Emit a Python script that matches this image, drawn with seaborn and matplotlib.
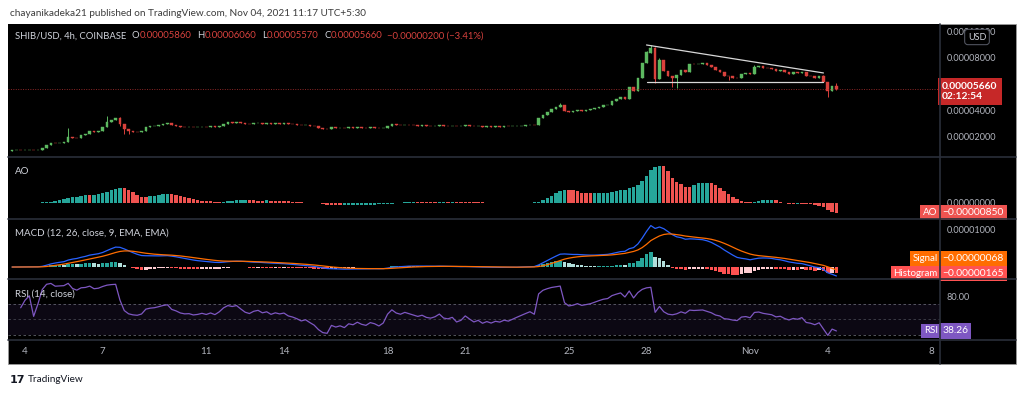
import numpy as np
import pandas as pd
import matplotlib
matplotlib.use("Agg")
import matplotlib.pyplot as plt
import matplotlib.dates as mdates
import matplotlib.transforms as mtrans
from matplotlib.patches import Rectangle
from matplotlib.lines import Line2D
import seaborn as sns

# ---------------- data (prices in units of 1e-5 USD) ----------------
first_candle = "2021-10-03 12:00"
candle_freq = "4h"
close_e5 = [
    0.98, 1.00, 0.99,
    1.00, 1.01, 0.99, 1.02, 1.15, 1.42,
    1.55, 1.53, 1.55, 1.58, 1.98, 1.92,
    1.90, 2.15, 2.20, 2.42, 2.38, 2.45,
    2.75, 3.10, 3.30, 3.42, 3.00, 2.60,
    2.45, 2.40, 2.38, 2.45, 2.75, 2.82,
    2.85, 2.92, 3.00, 3.05, 2.90, 2.85,
    2.78, 2.75, 2.76, 2.72, 2.74, 2.78,
    2.75, 2.80, 2.76, 2.85, 3.00, 3.10,
    3.08, 3.12, 3.05, 2.98, 2.95, 3.02,
    3.05, 3.00, 3.03, 2.98, 3.02, 3.00,
    3.02, 2.97, 2.95, 2.92, 2.88, 2.90,
    2.85, 2.80, 2.70, 2.62, 2.60, 2.72,
    2.68, 2.70, 2.66, 2.72, 2.70, 2.74,
    2.70, 2.68, 2.72, 2.70, 2.66, 2.70,
    2.85, 2.95, 2.90, 2.88, 2.92, 2.90,
    2.88, 2.86, 2.88, 2.85, 2.84, 2.86,
    2.90, 2.85, 2.84, 2.86, 2.80, 2.82,
    2.88, 2.84, 2.80, 2.82, 2.78, 2.80,
    2.78, 2.80, 2.79, 2.81, 2.80, 2.82,
    2.84, 2.86, 2.88, 2.90, 2.88, 3.40,
    3.70, 3.90, 4.10, 4.25, 4.40, 4.00,
    3.90, 3.95, 4.05, 4.00, 4.05, 4.10,
    4.20, 4.30, 4.40, 4.45, 4.70, 4.85,
    5.00, 4.90, 5.75, 5.50, 6.50, 7.60,
    8.40, 8.75, 6.40, 7.80, 7.00, 6.60,
    6.50, 6.70, 7.10, 6.90, 7.55, 7.50,
    7.55, 7.60, 7.45, 7.30, 7.05, 6.95,
    6.65, 6.60, 6.50, 6.45, 6.80, 6.85,
    6.75, 7.30, 7.35, 7.25, 7.20, 7.15,
    7.00, 7.05, 6.90, 6.80, 6.90, 6.85,
    6.95, 6.65, 6.60, 6.50, 6.60, 6.15,
    5.50, 5.86, 5.66,
]
first_open_e5 = 0.97
wick_high_e5 = {13: 2.70, 22: 3.60, 25: 3.50, 127: 4.60, 147: 8.50, 148: 8.97,
                149: 8.80, 150: 7.95, 172: 7.45, 188: 6.70, 191: 6.06}
wick_low_e5 = {25: 2.85, 26: 2.25, 27: 2.20, 149: 6.10, 153: 5.80, 154: 5.70,
               166: 6.30, 189: 5.03, 191: 5.57}

pattern_dates = ["2021-10-28 00:00", "2021-11-03 20:00"]
pattern_upper_e5 = [8.97, 6.85]
pattern_lower_e5 = [6.15, 6.15]

tick_dates = ["2021-10-04", "2021-10-07", "2021-10-11", "2021-10-14", "2021-10-18",
              "2021-10-21", "2021-10-25", "2021-10-28", "2021-11-01", "2021-11-04",
              "2021-11-08"]
tick_labels = ["4", "7", "11", "14", "18", "21", "25", "28", "Nov", "4", "8"]
view_start, view_end = "2021-10-03 08:15", "2021-11-08 08:00"

price_ticks_e5 = [2, 4, 8, 10]
header_text = "chayanikadeka21 published on TradingView.com, Nov 04, 2021 11:17 UTC+5:30"
symbol_text = "SHIB/USD, 4h, COINBASE"
ohlc_keys = ["O", "H", "L", "C"]
ohlc_vals = ["0.00005860", "0.00006060", "0.00005570", "0.00005660"]
change_text = "\u22120.00000200 (\u22123.41%)"
price_label = "0.00005660"
countdown_label = "02:12:54"
ao_label = "\u22120.00000850"
signal_label = "\u22120.00000068"
hist_label = "\u22120.00000165"
rsi_label = "38.26"

# ---------------- derived series ----------------
sns.set_style("dark", {"axes.facecolor": "black", "figure.facecolor": "white"})
plt.rcParams["font.family"] = ["Lato", "DejaVu Sans"]

E5 = 1e-5
close = pd.Series(close_e5) * E5
open_ = pd.Series(np.r_[first_open_e5, close_e5[:-1]]) * E5
high = np.maximum(open_, close).copy()
low = np.minimum(open_, close).copy()
for k, v in wick_high_e5.items():
    high[k] = v * E5
for k, v in wick_low_e5.items():
    low[k] = v * E5
times = pd.date_range(first_candle, periods=len(close), freq=candle_freq)
x = mdates.date2num(times.to_pydatetime())
step = 1 / 6

median = (high + low) / 2
ao = median.rolling(5, min_periods=1).mean() - median.rolling(34, min_periods=1).mean()
ao_up = ao.diff().fillna(0) >= 0

ema12 = close.ewm(span=12, adjust=False).mean()
ema26 = close.ewm(span=26, adjust=False).mean()
macd = ema12 - ema26
signal = macd.ewm(span=9, adjust=False).mean()
hist = macd - signal
hd = hist.diff().fillna(0)
hist_col = np.where(hist >= 0, np.where(hd >= 0, "#26a69a", "#b2dfdb"),
                    np.where(hd < 0, "#ff5252", "#ffcdd2"))

delta = close.diff().fillna(0)
ag = delta.clip(lower=0).ewm(alpha=1 / 14, adjust=False).mean()
al = (-delta).clip(lower=0).ewm(alpha=1 / 14, adjust=False).mean()
rsi = 100 - 100 / (1 + ag / al)
rsi[al == 0] = np.nan

# ---------------- figure layout (pixel based) ----------------
W, H = 1024, 395
fig = plt.figure(figsize=(W / 100, H / 100), dpi=100)
fig.patch.set_facecolor("white")


def frac(x0, y0, x1, y1):
    return [x0 / W, 1 - y1 / H, (x1 - x0) / W, (y1 - y0) / H]


fig.add_artist(Rectangle((8 / W, 1 - 364 / H), (1016 - 8) / W, (364 - 24) / H,
                         transform=fig.transFigure, fc="black", ec="#9a9a9a",
                         lw=0.6, zorder=-1))

ax_p = fig.add_axes(frac(8, 24, 940, 157))
ax_ao = fig.add_axes(frac(8, 157, 940, 219), sharex=ax_p)
ax_m = fig.add_axes(frac(8, 219, 940, 279), sharex=ax_p)
ax_r = fig.add_axes(frac(8, 279, 940, 340), sharex=ax_p)

GREY = "#b2b5be"
LIGHT = "#d1d4dc"
FS = 6.6
for a in (ax_p, ax_ao, ax_m, ax_r):
    a.set_facecolor("black")
    for s in a.spines.values():
        s.set_visible(False)
    a.grid(False)
    a.yaxis.tick_right()
    a.tick_params(axis="y", length=0, pad=5, labelsize=FS, labelcolor=GREY)
    a.tick_params(axis="x", length=0, labelbottom=False)

ax_p.set_xlim(mdates.date2num(pd.Timestamp(view_start)), mdates.date2num(pd.Timestamp(view_end)))

# ---- price pane ----
up = close >= open_
ccol = np.where(up, "#5cb860", "#d9413c")
ax_p.vlines(x, low, high, colors=ccol, lw=0.7)
ax_p.bar(x, (close - open_).abs().clip(lower=0.02 * E5), bottom=np.minimum(open_, close),
         width=step * 0.62, color=ccol, edgecolor=ccol, lw=0.3)
px = mdates.date2num(pd.to_datetime(pattern_dates).to_pydatetime())
ax_p.plot(px, np.array(pattern_upper_e5) * E5, color="#d8d8d8", lw=0.9)
ax_p.plot(px, np.array(pattern_lower_e5) * E5, color="#d8d8d8", lw=0.9)
ax_p.axhline(close.iloc[-1], color="#b03030", lw=0.7, ls=(0, (1, 1.5)), alpha=0.8)
ax_p.set_ylim(0.48 * E5, 10.56 * E5)
ax_p.set_yticks([t * E5 for t in price_ticks_e5])
ax_p.set_yticklabels([f"{t * E5:.8f}" for t in price_ticks_e5])

# ---- AO pane ----
ax_ao.bar(x, ao, width=step * 0.8, color=np.where(ao_up, "#26a69a", "#ef5350"), lw=0)
lo, hi = ao.min(), ao.max()
rng = hi - lo
ax_ao.set_ylim(lo - 0.13 * rng, hi + 0.18 * rng)
ax_ao.set_yticks([0.0])
ax_ao.set_yticklabels(["0.00000000"])

# ---- MACD pane ----
ax_m.bar(x, hist, width=step * 0.8, color=hist_col, lw=0)
sns.lineplot(x=x, y=macd.values, ax=ax_m, color="#2962ff", lw=0.9, estimator=None)
sns.lineplot(x=x, y=signal.values, ax=ax_m, color="#ff6d00", lw=0.9, estimator=None)
lo = min(macd.min(), signal.min(), hist.min())
hi = max(macd.max(), signal.max(), hist.max())
rng = hi - lo
ax_m.set_ylim(lo - 0.06 * rng, hi + 0.13 * rng)
ax_m.set_yticks([1e-5])
ax_m.set_yticklabels(["0.00001000"])

# ---- RSI pane ----
ax_r.axhspan(30, 70, color="#7e57c2", alpha=0.1, lw=0)
for lvl in (70, 50, 30):
    ax_r.axhline(lvl, color="#787b86", lw=0.6, ls=(0, (3, 3)), alpha=0.8 if lvl != 50 else 0.5)
sns.lineplot(x=x, y=rsi.values, ax=ax_r, color="#7e57c2", lw=0.9, estimator=None)
ax_r.set_ylim(23.5, 102)
ax_r.set_yticks([80])
ax_r.set_yticklabels(["80.00"])
ax_r.set_xticks(mdates.date2num(pd.to_datetime(tick_dates).to_pydatetime()))
ax_r.set_xticklabels(tick_labels)
ax_r.tick_params(axis="x", labelbottom=True, labelsize=7, labelcolor=GREY, pad=5.4)

for a in (ax_p, ax_ao, ax_m, ax_r):
    a.set_xlabel("")
    a.set_ylabel("")

# ---- separators ----
for yy in (157, 219, 279, 340):
    fig.add_artist(Line2D([8 / W, 1016 / W], [1 - yy / H] * 2, color="#2a2e39", lw=1.2,
                          transform=fig.transFigure))
fig.add_artist(Line2D([940 / W] * 2, [1 - 24 / H, 1 - 364 / H], color="#2a2e39", lw=1.2,
                      transform=fig.transFigure))

# ---- texts ----
fig.text(10 / W, 1 - 13 / H, header_text, color="#3c3c3c", fontsize=7.2, va="center")
fig.text(10 / W, 1 - 380 / H, "17", color="#131722", fontsize=8, fontweight="bold",
         va="center", family="DejaVu Sans")
fig.text(28 / W, 1 - 380 / H, "TradingView", color="#131722", fontsize=7.2, va="center")

t0 = ax_p.text(15 / W, 1 - 36 / H, symbol_text, transform=fig.transFigure, color=LIGHT,
               fontsize=6.8, va="center")
prev = t0
for key, val in zip(ohlc_keys, ohlc_vals):
    prev = ax_p.annotate(key, xy=(1, 0), xycoords=prev, xytext=(4.0, 0),
                         textcoords="offset points", color=LIGHT, fontsize=6.8,
                         va="bottom", annotation_clip=False)
    prev = ax_p.annotate(val, xy=(1, 0), xycoords=prev, xytext=(0.2, 0),
                         textcoords="offset points", color="#d8423e", fontsize=6.8,
                         va="bottom", annotation_clip=False)
ax_p.annotate(change_text, xy=(1, 0), xycoords=prev, xytext=(3.2, 0),
              textcoords="offset points", color="#d8423e", fontsize=6.8,
              va="bottom", annotation_clip=False)

fig.text(15 / W, 1 - 172 / H, "AO", color=LIGHT, fontsize=7, va="center")
fig.text(15 / W, 1 - 233 / H, "MACD (12, 26, close, 9, EMA, EMA)", color=LIGHT, fontsize=7,
         va="center")
fig.text(15 / W, 1 - 294 / H, "RSI (14, close)", color=LIGHT, fontsize=7, va="center")

fig.text(977 / W, 1 - 37 / H, "USD", ha="center", va="center", color=LIGHT, fontsize=6.5,
         bbox=dict(boxstyle="round,pad=0.35", fc="black", ec="#50535e", lw=0.8))


def tag(ax, yval, text, fc, side, dy=0.0, fs=7, bold=False):
    tr = mtrans.blended_transform_factory(ax.transAxes, ax.transData)
    ax.annotate(text, xy=(1, yval), xycoords=tr,
                xytext=((1.6 if side == "right" else -1.6), dy), textcoords="offset points",
                ha=("left" if side == "right" else "right"), va="center", color="white",
                fontsize=fs, fontweight=("bold" if bold else "normal"),
                bbox=dict(boxstyle="square,pad=0.3", fc=fc, ec="none"),
                annotation_clip=False, zorder=10)


# price tag (two lines)
trp = mtrans.blended_transform_factory(ax_p.transAxes, ax_p.transData)
ax_p.annotate(price_label + "\n" + countdown_label, xy=(1, close.iloc[-1]), xycoords=trp,
              xytext=(1.6, 4.8), textcoords="offset points", ha="left", va="top",
              color="white", fontsize=7.4, linespacing=1.2, fontweight="bold",
              bbox=dict(boxstyle="square,pad=0.4", fc="#c62828", ec="none"),
              annotation_clip=False, zorder=10)

tag(ax_ao, ao.iloc[-1], "AO", "#ef5350", "left")
tag(ax_ao, ao.iloc[-1], ao_label, "#ef5350", "right", fs=7.4)
tag(ax_m, hist.iloc[-1], "Histogram", "#ff5252", "left", dy=0)
tag(ax_m, hist.iloc[-1], hist_label, "#ff5252", "right", dy=0, fs=7.4)
tag(ax_m, hist.iloc[-1], "Signal", "#ff6d00", "left", dy=10.5)
tag(ax_m, hist.iloc[-1], signal_label, "#ff6d00", "right", dy=10.5, fs=7.4)
tag(ax_r, rsi.iloc[-1], "RSI", "#7e57c2", "left")
tag(ax_r, rsi.iloc[-1], rsi_label, "#7e57c2", "right", fs=7.4)

fig.savefig("out.png", dpi=100, facecolor="white")
